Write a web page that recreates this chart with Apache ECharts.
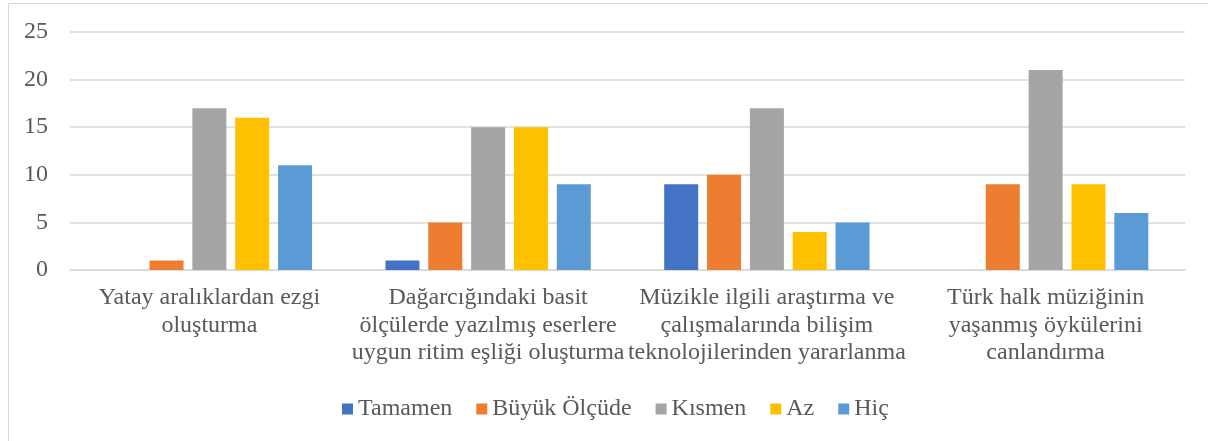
<!DOCTYPE html>
<html><head><meta charset="utf-8">
<script src="https://cdn.jsdelivr.net/npm/echarts@6/dist/echarts.min.js"></script>
<style>html,body{margin:0;padding:0;background:#fff}#c{width:1208px;height:441px}</style>
</head><body><div id="c"></div>
<script>
const categories = [
  "Yatay aralıklardan ezgi\noluşturma",
  "Dağarcığındaki basit\nölçülerde yazılmış eserlere\nuygun ritim eşliği oluşturma",
  "Müzikle ilgili araştırma ve\nçalışmalarında bilişim\nteknolojilerinden yararlanma",
  "Türk halk müziğinin\nyaşanmış öykülerini\ncanlandırma"
];
const seriesNames = ["Tamamen", "Büyük Ölçüde", "Kısmen", "Az", "Hiç"];
const tamamen = [0, 1, 9, 0];
const buyukOlcude = [1, 5, 10, 9];
const kismen = [17, 15, 17, 21];
const az = [16, 15, 4, 9];
const hic = [11, 9, 5, 6];
const yTicks = [0, 5, 10, 15, 20, 25];
const colors = ["#4472C4", "#ED7D31", "#A5A5A5", "#FFC000", "#5B9BD5"];
const values = [tamamen, buyukOlcude, kismen, az, hic];

const font = "'Liberation Serif', 'Times New Roman', serif";
const chart = echarts.init(document.getElementById('c'));
chart.setOption({
  animation: false,
  textStyle: { fontFamily: font },
  graphic: [{
    type: 'rect', shape: { x: 8.5, y: 3.5, width: 1300, height: 500 },
    style: { fill: 'none', stroke: '#D9D9D9', lineWidth: 1 }, silent: true, z: -10
  }],
  grid: { left: 70, right: 23, top: 32, bottom: 171, containLabel: false },
  legend: {
    data: seriesNames, top: 392, left: 337,
    itemWidth: 11, itemHeight: 11, itemGap: 24, icon: 'rect',
    textStyle: { fontFamily: font, fontSize: 24, color: '#595959', padding: [0, 0, 0, 0] }
  },
  xAxis: {
    type: 'category', data: categories,
    axisLine: { lineStyle: { color: '#D9D9D9', width: 1.5 } },
    axisTick: { show: false },
    axisLabel: { interval: 0, fontFamily: font, fontSize: 24, color: '#595959', lineHeight: 27.5, margin: 14 }
  },
  yAxis: {
    type: 'value', min: 0, max: 25, interval: 5,
    axisLine: { show: false }, axisTick: { show: false },
    splitLine: { lineStyle: { color: '#D9D9D9', width: 1.5 } },
    axisLabel: { fontFamily: font, fontSize: 24, color: '#595959', margin: 22,
      formatter: v => yTicks.includes(v) ? String(v) : '' }
  },
  series: seriesNames.map((n, i) => ({
    name: n, type: 'bar', data: values[i],
    itemStyle: { color: colors[i] },
    barWidth: 34, barGap: '26%', barCategoryGap: '26%'
  }))
});
</script></body></html>
